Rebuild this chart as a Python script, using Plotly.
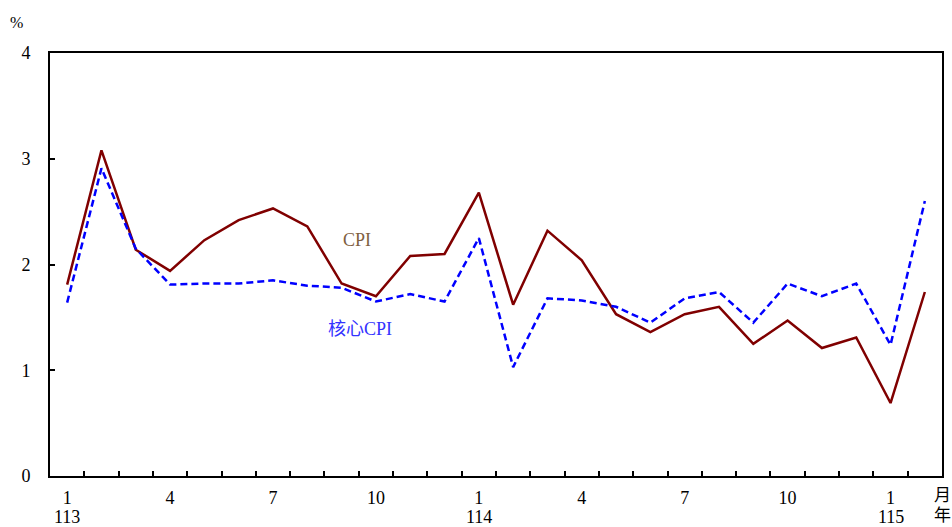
import plotly.graph_objects as go

# Monthly year-over-year change (%), ROC years 113/1 through 115/2
months = ["113/1", "113/2", "113/3", "113/4", "113/5", "113/6", "113/7", "113/8",
          "113/9", "113/10", "113/11", "113/12",
          "114/1", "114/2", "114/3", "114/4", "114/5", "114/6", "114/7", "114/8",
          "114/9", "114/10", "114/11", "114/12",
          "115/1", "115/2"]

cpi = [1.81, 3.08, 2.14, 1.94, 2.23, 2.42, 2.53, 2.36, 1.82, 1.70, 2.08, 2.10,
       2.68, 1.62, 2.32, 2.04, 1.53, 1.36, 1.53, 1.60, 1.25, 1.47, 1.21, 1.31,
       0.69, 1.74]

core_cpi = [1.64, 2.91, 2.15, 1.81, 1.82, 1.82, 1.85, 1.80, 1.78, 1.65, 1.72, 1.65,
            2.25, 1.03, 1.68, 1.66, 1.60, 1.45, 1.68, 1.74, 1.45, 1.82, 1.70, 1.82,
            1.24, 2.60]

tick_positions = [0, 3, 6, 9, 12, 15, 18, 21, 24]
tick_labels = ["1", "4", "7", "10", "1", "4", "7", "10", "1"]
year_positions = [0, 12, 24]
year_labels = ["113", "114", "115"]
y_ticks = [0, 1, 2, 3, 4]

x = list(range(len(months)))

SERIF = "Liberation Serif, Times New Roman, Noto Sans CJK TC, serif"
FS = 18

fig = go.Figure()
fig.add_trace(go.Scatter(
    x=x, y=cpi, mode="lines", name="CPI",
    line=dict(color="#800000", width=2.5),
    customdata=months, hovertemplate="%{customdata}: %{y}%<extra>CPI</extra>",
))
fig.add_trace(go.Scatter(
    x=x, y=core_cpi, mode="lines", name="核心CPI",
    line=dict(color="#0000FF", width=2.5, dash="7px,4px"),
    customdata=months, hovertemplate="%{customdata}: %{y}%<extra>核心CPI</extra>",
))

annotations = [
    dict(x=8.45, y=2.23, xref="x", yref="y", text="CPI", showarrow=False,
         font=dict(family=SERIF, size=FS, color="#80603F")),
    dict(x=8.55, y=1.39, xref="x", yref="y", text="核心CPI", showarrow=False,
         font=dict(family=SERIF, size=FS, color="#3333FF")),
    dict(x=-0.038, y=1.073, xref="paper", yref="paper", text="%", showarrow=False,
         xanchor="center", yanchor="middle", font=dict(family=SERIF, size=16)),
    dict(x=1.0, y=-0.045, xref="paper", yref="paper", text="月", showarrow=False,
         xanchor="center", yanchor="middle", font=dict(family=SERIF, size=17)),
    dict(x=1.0, y=-0.093, xref="paper", yref="paper", text="年", showarrow=False,
         xanchor="center", yanchor="middle", font=dict(family=SERIF, size=17)),
]
# Year labels under the January ticks
for xp, yl in zip(year_positions, year_labels):
    annotations.append(dict(x=xp, y=-0.097, xref="x", yref="paper", text=yl,
                            showarrow=False, xanchor="center", yanchor="middle",
                            borderpad=0, font=dict(family=SERIF, size=FS)))

fig.update_layout(
    width=952, height=527,
    margin=dict(l=50, r=10, t=53, b=51),
    paper_bgcolor="white", plot_bgcolor="white",
    showlegend=False,
    font=dict(family=SERIF, size=FS, color="black"),
    xaxis=dict(
        range=[-0.5, len(months) - 0.5], automargin=False,
        tickmode="array", tickvals=tick_positions, ticktext=tick_labels,
        ticks="", ticklabelstandoff=4, showgrid=False, zeroline=False,
        showline=True, mirror=True, linecolor="black", linewidth=2,
        tickfont=dict(family=SERIF, size=FS),
        minor=dict(tickmode="array",
                   tickvals=[i + 0.5 for i in range(len(months) - 1)],
                   ticks="inside", ticklen=5, tickwidth=1.5, tickcolor="black",
                   showgrid=False),
    ),
    yaxis=dict(
        range=[0, 4], automargin=False, tickmode="array", tickvals=y_ticks,
        ticks="inside", ticklen=5, tickwidth=1.5, tickcolor="black",
        ticklabelstandoff=14,
        showgrid=False, zeroline=False,
        showline=True, mirror=True, linecolor="black", linewidth=2,
        tickfont=dict(family=SERIF, size=FS),
    ),
    annotations=annotations,
)

fig.write_html("out.html")
